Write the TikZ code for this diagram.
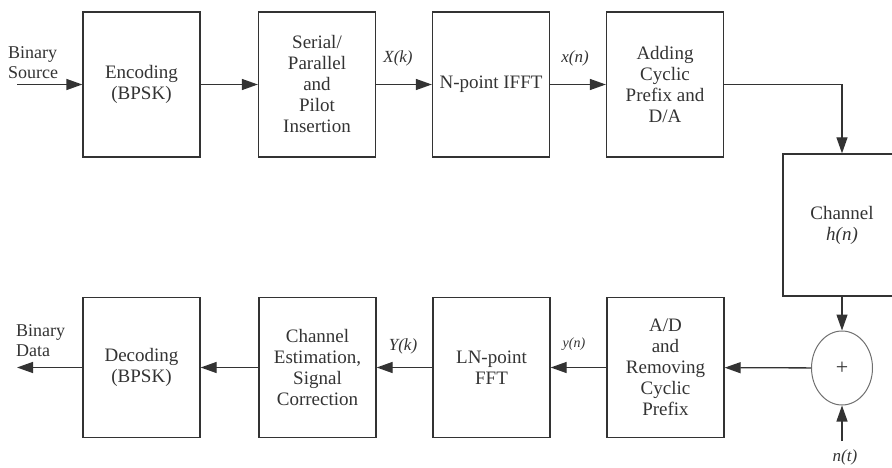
\documentclass[tikz,border=0pt]{standalone}
\usepackage{fontspec}
\setmainfont{Liberation Serif}
\usetikzlibrary{arrows.meta,shapes.geometric}
\definecolor{ink}{HTML}{333333}
\begin{document}
\begin{tikzpicture}[x=1pt,y=-1pt,
  block/.style={draw=ink,line width=1.3pt,minimum width=117pt,align=center,
                text=ink,font=\fontsize{19}{21}\selectfont,inner sep=0pt},
  topblock/.style={block,minimum height=145pt},
  botblock/.style={block,minimum height=140pt},
  flow/.style={draw=ink,line width=1.3pt,-{Triangle[length=16pt,width=11pt]}},
  sig/.style={text=ink,font=\fontsize{17}{18}\selectfont\itshape,inner sep=0pt},
  txt/.style={text=ink,font=\fontsize{18}{20}\selectfont,align=left,inner sep=0pt}]
\clip (0,0) rectangle (892,468);
\useasboundingbox (0,0) rectangle (892,468);

% transmitter chain
\node[topblock] (enc)  at (141.5,84.5) {Encoding\\(BPSK)};
\node[topblock] (ser)  at (317,84.5)   {Serial/\\Parallel\\and\\Pilot\\Insertion};
\node[topblock] (ifft) at (491,84.5)   {N-point IFFT};
\node[topblock] (cp)   at (665,84.5)   {Adding\\Cyclic\\Prefix and\\D/A};

% channel and additive noise
\node[block,minimum width=118pt,minimum height=142pt] (ch) at (842,225) {Channel\\\textit{h(n)}};
\node[draw=ink!70,line width=1pt,ellipse,minimum width=61pt,minimum height=74pt,
      text=ink,font=\fontsize{22}{22}\selectfont,inner sep=0pt] (sum) at (842,368) {+};

% receiver chain
\node[botblock] (ad)  at (665.5,367.5) {A/D\\and\\Removing\\Cyclic\\Prefix};
\node[botblock] (fft) at (491.5,367.5) {LN-point\\FFT};
\node[botblock] (est) at (317.5,367.5) {Channel\\Estimation,\\Signal\\Correction};
\node[botblock] (dec) at (141.5,367.5) {Decoding\\(BPSK)};

% free ends
\coordinate (src)   at (17,84.5);
\coordinate (sink)  at (17,367.5);
\coordinate (noise) at (842,441);

% connectors
\draw[flow] (src) -- (enc);
\draw[flow] (enc) -- (ser);
\draw[flow] (ser) -- (ifft);
\draw[flow] (ifft) -- (cp);
\draw[flow] (cp.east) -| (ch.north);
\draw[flow] (ch) -- (sum);
\draw[flow] (noise) -- (sum);
\draw[flow] (sum) -- (ad);
\draw[flow] (ad) -- (fft);
\draw[flow] (fft) -- (est);
\draw[flow] (est) -- (dec);
\draw[flow] (dec) -- (sink);

% labels
\node[txt,anchor=west] (srclbl)  at (8,63)   {Binary\\Source};
\node[txt,anchor=west] (sinklbl) at (16,341) {Binary\\Data};
\node[sig] (xk) at (398,58)  {X(k)};
\node[sig] (xn) at (575,58)  {x(n)};
\node[sig] (yk) at (403,346) {Y(k)};
\node[sig,font=\fontsize{14}{15}\selectfont\itshape] (yn) at (574,344) {y(n)};
\node[sig] (nt) at (845,457) {n(t)};
\end{tikzpicture}
\end{document}
